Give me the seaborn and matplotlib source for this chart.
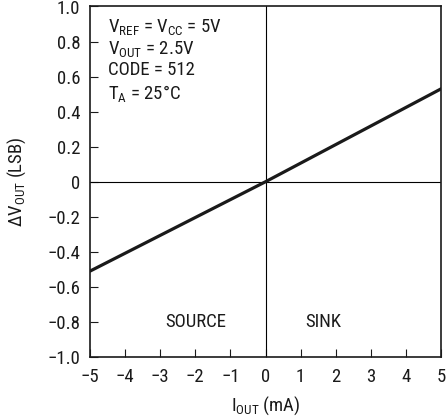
import matplotlib
matplotlib.use("Agg")
import matplotlib.pyplot as plt
from matplotlib import font_manager
import seaborn as sns
import pandas as pd

# Output current vs. output voltage change
i_out_ma = [-5, 0, 5]
delta_v_lsb = [-0.51, 0.0, 0.53]

x_ticks = [-5, -4, -3, -2, -1, 0, 1, 2, 3, 4, 5]
y_ticks = [-1.0, -0.8, -0.6, -0.4, -0.2, 0, 0.2, 0.4, 0.6, 0.8, 1.0]
y_tick_labels = ["\u22121.0", "\u22120.8", "\u22120.6", "\u22120.4", "\u22120.2", "0",
                 "0.2", "0.4", "0.6", "0.8", "1.0"]
x_tick_labels = ["\u22125", "\u22124", "\u22123", "\u22122", "\u22121", "0",
                 "1", "2", "3", "4", "5"]

conditions = [
    r"V$_{REF}$ = V$_{CC}$ = 5V",
    r"V$_{OUT}$ = 2.5V",
    "CODE = 512",
    r"T$_{A}$ = 25°C",
]

sns.set_style("ticks")

# prefer a narrow sans face when one is installed
fonts = font_manager.fontManager.ttflist
names = {f.name for f in fonts}
stretch = "normal"
family = "Liberation Sans"
for cand in ["Liberation Sans Narrow", "Roboto Condensed", "Arial Narrow",
             "Open Sans Condensed"]:
    if cand in names:
        family = cand
        break
else:
    for f in fonts:
        if f.name == "DejaVu Sans" and str(f.stretch) in ("condensed", "semi-condensed"):
            family = "DejaVu Sans"
            stretch = "condensed"
            break

plt.rcParams["font.family"] = [family, "DejaVu Sans"]
plt.rcParams["font.stretch"] = stretch
plt.rcParams["mathtext.default"] = "regular"
plt.rcParams["axes.unicode_minus"] = True

FS = 13.5
ink = "#1a1a1a"

df = pd.DataFrame({"i_out": i_out_ma, "dv": delta_v_lsb})

fig = plt.figure(figsize=(4.46, 4.19), dpi=100)
ax = fig.add_axes([90 / 446, 1 - 357 / 419, 351 / 446, 350.5 / 419])

ax.axhline(0, color="black", lw=0.8, zorder=1)
ax.axvline(0, color="black", lw=0.8, zorder=1)
sns.lineplot(data=df, x="i_out", y="dv", ax=ax, color=ink, lw=2.3, zorder=3)

ax.set_xlim(-5, 5)
ax.set_ylim(-1, 1)
ax.set_xticks(x_ticks)
ax.set_xticklabels(x_tick_labels)
ax.set_yticks(y_ticks)
ax.set_yticklabels(y_tick_labels)
ax.tick_params(direction="in", length=6, width=0.8, labelsize=FS, colors=ink)
ax.tick_params(axis="x", pad=8)
ax.tick_params(axis="y", pad=7)
for side in ["left", "right", "top", "bottom"]:
    ax.spines[side].set_visible(True)
    ax.spines[side].set_linewidth(1.2)
    ax.spines[side].set_color(ink)

ax.set_xlabel(r"I$_{OUT}$ (mA)", fontsize=FS, labelpad=6, color=ink)
ax.set_ylabel(r"ΔV$_{OUT}$ (LSB)", fontsize=FS, labelpad=14, color=ink)

for k, line in enumerate(conditions):
    ax.text(0.05, 0.969 - k * 0.0625, line, transform=ax.transAxes,
            fontsize=FS, va="top", ha="left", color=ink)

ax.text(-2.86, -0.8, "SOURCE", fontsize=FS, va="center", ha="left", color=ink)
ax.text(1.12, -0.8, "SINK", fontsize=FS, va="center", ha="left", color=ink)

fig.savefig("out.png", dpi=100)
